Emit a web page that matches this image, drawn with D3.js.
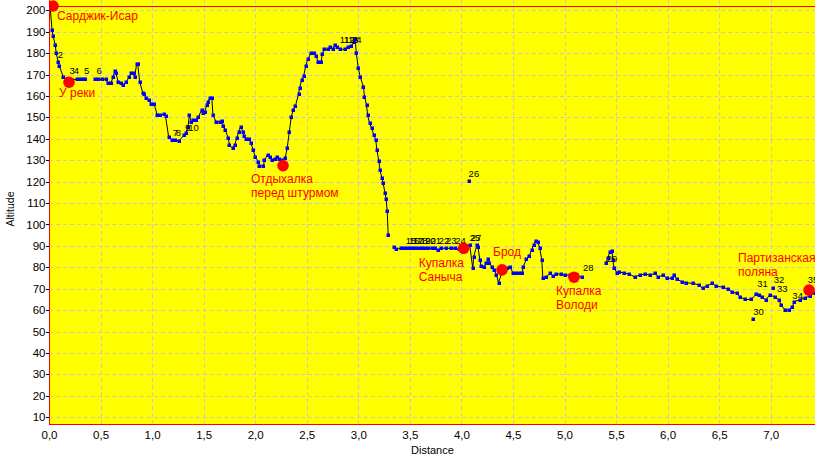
<!DOCTYPE html>
<html><head><meta charset="utf-8">
<script src="https://cdn.jsdelivr.net/npm/d3@7"></script>
<style>body{margin:0;background:#fff}svg{display:block}text{font-family:"Liberation Sans",Arial,sans-serif}</style>
</head><body>
<svg id="c" width="815" height="458"></svg>
<script>
// ---- data ----
const trackX = [0.01,0.03,0.04,0.06,0.07,0.09,0.10,0.14,0.18,0.22,0.27,0.30,0.33,0.35,null,
0.45,0.48,0.51,0.55,0.57,0.60,0.62,0.64,0.65,0.67,0.70,0.72,0.75,0.78,0.80,0.82,0.83,0.85,0.86,0.88,0.91,0.92,0.94,0.97,0.99,1.02,1.05,1.08,1.12,1.13,1.16,1.19,1.22,1.26,1.31,1.33,1.35,1.36,1.38,1.40,1.43,1.45,1.48,1.49,1.51,1.53,1.54,1.56,1.58,1.59,1.62,1.66,1.68,1.69,1.71,1.74,1.75,1.78,1.80,1.82,1.84,1.86,1.88,1.89,1.91,1.94,1.96,1.98,2.00,2.03,2.04,2.08,2.09,2.12,2.14,2.16,2.19,2.21,2.23,2.26,2.29,2.31,2.33,2.35,2.37,2.39,2.42,2.43,2.45,2.47,2.49,2.51,2.54,2.57,2.59,2.61,2.64,2.65,2.67,2.71,2.73,2.75,2.77,2.79,2.82,2.87,2.90,2.93,2.96,2.97,2.98,3.00,3.02,3.05,3.06,3.08,3.09,3.11,3.13,3.15,3.17,3.18,3.20,3.21,3.23,3.24,3.26,3.27,3.28,3.29,null,
3.35,3.37,3.41,3.44,3.47,3.50,3.53,3.56,3.59,3.62,3.65,3.68,3.71,3.74,3.77,3.80,3.85,3.90,3.94,3.98,4.02,4.08,4.11,4.12,4.15,4.16,4.18,4.19,4.22,4.24,4.26,4.27,4.30,4.32,4.34,4.36,4.40,4.44,4.47,4.50,4.53,4.56,4.59,4.60,4.63,4.66,4.68,4.70,4.72,4.74,4.76,4.78,4.79,4.82,4.86,4.89,4.92,4.97,5.00,5.05,5.09,5.12,5.17,null,
5.40,5.42,5.44,5.46,5.47,5.48,5.51,5.53,5.58,5.63,5.68,5.73,5.78,5.83,5.88,5.91,5.96,5.99,6.04,6.06,6.09,6.14,6.18,6.25,6.30,6.34,6.38,6.43,6.47,6.54,6.59,6.62,6.67,6.70,6.75,6.81,6.86,6.89,6.92,6.95,6.99,7.04,7.08,7.10,7.14,7.18,7.21,7.23,7.28,7.33,7.38,7.43];
const trackY = [202,190.8,188,184,180,175.7,174,168.7,168,167.5,167.8,167.8,167.8,167.8,null,
167.8,167.8,167.8,167.8,166,166,168.7,171.8,170.6,166.7,166,165.1,166.7,169,170.6,170.9,168.7,175,175,166.5,161.5,161,159,158.2,156.3,156.3,151,151,151.6,150.7,141,139.5,139.5,139,141.8,142.9,145.7,151.1,148,148.8,148.8,150.3,153.5,151.9,152.7,155.8,157.3,158.9,158.9,151.1,148,148,148.5,146,144.1,140.2,137.1,135.6,137.1,140.2,143.3,145.7,143.3,141.3,139.8,139.8,137.9,134.8,131.7,129.3,127.3,127.3,130.1,132.5,131.7,130.1,130.4,131.7,130.4,130.1,130.9,135.6,143,150.3,153.5,155.3,160.8,163.6,167.5,169.3,174,177.1,179.9,179.9,178.7,176,176,179.6,181.8,181.8,183,181.8,183.8,183,181.8,181.8,183,183.3,185.3,186.5,180.2,172.9,168.7,164.3,159.7,155.8,151.1,147.2,144.9,141.8,139.4,134.8,129.5,125.4,121.5,119.5,114.6,111.8,106.4,95.1,null,
89.4,88.4,88.9,88.9,88.9,88.9,88.9,88.9,88.9,88.9,88.9,88.9,88.9,88.9,88.0,88.9,88.9,88.9,88.9,88.4,89.1,90.5,79.6,85,90.5,89.7,83.4,80.6,80.3,81.9,83.8,81.9,80.3,78.8,76.4,72.8,78.8,79.6,80.3,77.5,77.5,77.5,77.5,80.3,83.8,85.5,88.1,90.5,92.5,92,88.9,83.4,75.2,75.3,77.2,75.9,76.9,76.9,76.4,76.4,75.5,76.4,75.3,null,
81.9,84.2,87.3,87.8,83.4,79.6,77.5,78,77.2,76.9,75.5,76.4,76.9,76.4,77.2,75.5,76.4,74.9,74.9,76.4,74.4,73.3,72.8,72.5,71.8,70.2,71.3,72.5,71.3,70.7,69.7,68.6,67.9,66.3,65,65,67.5,67,66.3,64.8,67,66.3,64.8,62.4,60.1,60.1,61.6,64,64.8,65.6,66.7,68];

const strayX = [4.07, 6.83, 7.02];
const strayY = [120.3, 56.0, 70.2];

const wpNames = ["2","3","4","5","6","7","8","9","10","11","12","13","14","15","16","17","18","19","20","21","22","23","24","25","27","26","28","29","30","31","32","33","34","35"];
const wpX = [0.085,0.20,0.24,0.34,0.46,1.20,1.23,1.32,1.35,2.82,2.86,2.90,2.93,3.46,3.49,3.53,3.57,3.60,3.65,3.70,3.78,3.85,3.94,4.08,4.09,4.07,5.18,5.41,6.83,6.87,7.03,7.06,7.21,7.36];
const wpY = [175.7,168.4,168.4,168.4,168.4,139.5,139.5,141.8,141.8,183,183,183,183,88.9,88.9,88.9,88.9,88.9,88.9,88.9,88.9,88.9,88.9,90.6,90.6,120.3,76.4,80.6,56.0,68.9,70.8,66.6,63.3,70.8];

const poiNames = [["Сарджик-Исар"],["У реки"],["Отдыхалка","перед штурмом"],["Купалка","Саныча"],["Брод"],["Купалка","Володи"],["Партизанская","поляна"]];
const poiX = [0.039,0.194,2.27,4.022,4.394,5.092,7.372];
const poiY = [202.0,166.4,127.5,88.9,78.8,75.4,69.4];
// label offsets (px) relative to the dot: left edge, first-line centre
const poiDx = [4,-10,-32,-45,-9,-18,-71];
const poiDy = [10,11,13,15,-18,14,-32];

const yTicks = [10,20,30,40,50,60,70,80,90,100,110,120,130,140,150,160,170,180,190,200];
const xTicks = [0,0.5,1,1.5,2,2.5,3,3.5,4,4.5,5,5.5,6,6.5,7];
const refLine = 202;

// ---- drawing ----
const svg = d3.select("#c");
const L = 49, R = 815, T = 0, B = 424;
const x = d3.scaleLinear().domain([0, (R - L) / 103.1]).range([L, R]);
const y = d3.scaleLinear().domain([200 - (B - 10.3) / 2.142, 200 + 10.3 / 2.142]).range([B, T]);

svg.append("defs").append("clipPath").attr("id","clip")
  .append("rect").attr("x",L).attr("y",T).attr("width",R-L).attr("height",B-T);

svg.append("rect").attr("x",L).attr("y",T).attr("width",R-L).attr("height",B-T).attr("fill","#ffff00");

const g = svg.append("g").attr("clip-path","url(#clip)");
// grid
g.selectAll(".gy").data(yTicks).join("line")
  .attr("x1",L).attr("x2",R).attr("y1",d=>Math.round(y(d))+0.5).attr("y2",d=>Math.round(y(d))+0.5)
  .attr("stroke","#c8c8c8").attr("stroke-dasharray","4,3");
g.selectAll(".gx").data(xTicks.filter(d=>d>0)).join("line")
  .attr("y1",T).attr("y2",B).attr("x1",d=>Math.round(x(d))+0.5).attr("x2",d=>Math.round(x(d))+0.5)
  .attr("stroke","#c8c8c8").attr("stroke-dasharray","4,3");

// reference line
g.append("line").attr("x1",L).attr("x2",R).attr("y1",Math.round(y(refLine))+0.5).attr("y2",Math.round(y(refLine))+0.5)
  .attr("stroke","#ff0000").attr("stroke-width",1);

// track
const pts = trackX.map((d,i)=>({x:d,y:trackY[i]}));
const line = d3.line().defined(d=>d.x!==null).x(d=>x(d.x)).y(d=>y(d.y));
g.append("path").datum(pts).attr("d",line).attr("fill","none").attr("stroke","#000").attr("stroke-width",1);
const mk = pts.filter(d=>d.x!==null).concat(strayX.map((d,i)=>({x:d,y:strayY[i]})));
g.selectAll(".m").data(mk).join("rect")
  .attr("x",d=>Math.round(x(d.x))-1.5).attr("y",d=>Math.round(y(d.y))-1.5)
  .attr("width",3.5).attr("height",3.5).attr("fill","#0000ff");

// waypoint numbers
g.selectAll(".wp").data(wpNames).join("text")
  .attr("x",(d,i)=>x(wpX[i])).attr("y",(d,i)=>y(wpY[i])-4)
  .attr("font-size",9.5).attr("fill","#000").text(d=>d);

// POI dots & labels
poiNames.forEach((lines,i)=>{
  const cx = x(poiX[i]), cy = y(poiY[i]);
  g.append("circle").attr("cx",cx).attr("cy",cy).attr("r",5.8).attr("fill","#ff0000");
  lines.forEach((t,j)=>{
    g.append("text").attr("x",cx+poiDx[i]).attr("y",cy+poiDy[i]+j*14).attr("dy","0.35em")
      .attr("font-size",12).attr("fill","#ff0000").text(t);
  });
});

// axes borders
svg.append("line").attr("x1",L+0.5).attr("x2",L+0.5).attr("y1",T).attr("y2",B+1).attr("stroke","#ff0000");
svg.append("line").attr("x1",L).attr("x2",R).attr("y1",B+0.5).attr("y2",B+0.5).attr("stroke","#ff0000");

// y ticks
const yt = svg.append("g");
yt.selectAll("line").data(yTicks).join("line")
  .attr("x1",46).attr("x2",49).attr("y1",d=>Math.round(y(d))+0.5).attr("y2",d=>Math.round(y(d))+0.5).attr("stroke","#000");
yt.selectAll("text").data(yTicks).join("text")
  .attr("x",45.5).attr("y",d=>y(d)).attr("dy","0.35em").attr("text-anchor","end")
  .attr("font-size",11.5).attr("fill","#000").text(d=>d);
// x ticks
const fmt = d=>d.toFixed(1).replace(".",",");
svg.append("g").selectAll("text").data(xTicks).join("text")
  .attr("x",d=>x(d)+0.5).attr("y",435).attr("dy","0.35em").attr("text-anchor","middle")
  .attr("font-size",11.5).attr("fill","#000").text(fmt);

svg.append("text").attr("x",411).attr("y",450).attr("dy","0.35em").attr("font-size",11).text("Distance");
svg.append("text").attr("transform","translate(10,209) rotate(-90)").attr("text-anchor","middle")
  .attr("dy","0.35em").attr("font-size",10.5).text("Altitude");
</script>
</body></html>
